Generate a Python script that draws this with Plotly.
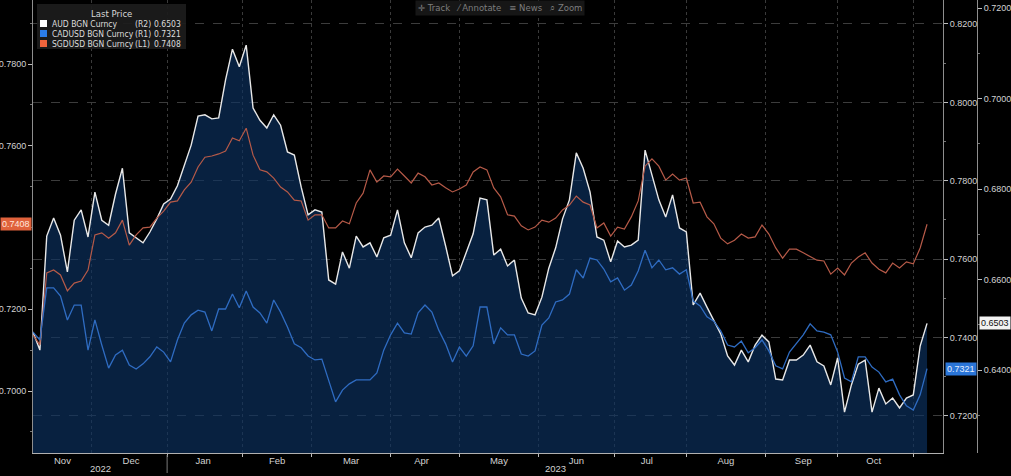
import pandas as pd
import plotly.graph_objects as go

# every second business day, one year ending on the last print
dates = pd.bdate_range("2022-11-08", "2023-11-07")[::2]

# AUD BGN Curncy (R2)
aud = [0.6484, 0.6444, 0.6696, 0.6736, 0.6698, 0.6617, 0.6731, 0.6754, 0.6694, 0.6793,
       0.6731, 0.6720, 0.6789, 0.6846, 0.6703, 0.6692, 0.6681, 0.6705, 0.6734, 0.6767,
       0.6778, 0.6807, 0.6853, 0.6897, 0.6961, 0.6964, 0.6955, 0.6957, 0.7041, 0.7109,
       0.7070, 0.7118, 0.6979, 0.6952, 0.6935, 0.6964, 0.6941, 0.6882, 0.6875, 0.6804,
       0.6743, 0.6754, 0.6749, 0.6599, 0.6590, 0.6661, 0.6625, 0.6696, 0.6672, 0.6681,
       0.6650, 0.6692, 0.6698, 0.6754, 0.6681, 0.6648, 0.6703, 0.6716, 0.6720, 0.6736,
       0.6674, 0.6608, 0.6619, 0.6661, 0.6701, 0.6780, 0.6776, 0.6654, 0.6667, 0.6630,
       0.6643, 0.6559, 0.6526, 0.6522, 0.6561, 0.6625, 0.6670, 0.6734, 0.6776, 0.6880,
       0.6846, 0.6793, 0.6694, 0.6687, 0.6639, 0.6685, 0.6672, 0.6676, 0.6687, 0.6886,
       0.6829, 0.6776, 0.6738, 0.6787, 0.6714, 0.6705, 0.6544, 0.6570, 0.6539, 0.6508,
       0.6480, 0.6431, 0.6411, 0.6444, 0.6418, 0.6455, 0.6477, 0.6462, 0.6380, 0.6378,
       0.6422, 0.6422, 0.6433, 0.6455, 0.6418, 0.6409, 0.6367, 0.6427, 0.6307, 0.6367,
       0.6413, 0.6422, 0.6307, 0.6360, 0.6325, 0.6338, 0.6316, 0.6338, 0.6345, 0.6453,
       0.6503]

# CADUSD BGN Curncy (R1)
cad = [0.7414, 0.7394, 0.7527, 0.7527, 0.7506, 0.7445, 0.7483, 0.7483, 0.7368, 0.7445,
       0.7381, 0.7322, 0.7356, 0.7368, 0.7330, 0.7320, 0.7333, 0.7351, 0.7376, 0.7363,
       0.7338, 0.7394, 0.7437, 0.7458, 0.7470, 0.7465, 0.7417, 0.7473, 0.7473, 0.7511,
       0.7476, 0.7519, 0.7478, 0.7463, 0.7437, 0.7496, 0.7465, 0.7427, 0.7384, 0.7374,
       0.7353, 0.7343, 0.7345, 0.7292, 0.7236, 0.7266, 0.7282, 0.7292, 0.7292, 0.7292,
       0.7310, 0.7368, 0.7407, 0.7437, 0.7412, 0.7409, 0.7463, 0.7483, 0.7465, 0.7419,
       0.7384, 0.7338, 0.7376, 0.7353, 0.7379, 0.7478, 0.7478, 0.7384, 0.7425, 0.7407,
       0.7407, 0.7358, 0.7353, 0.7366, 0.7432, 0.7450, 0.7491, 0.7496, 0.7511, 0.7573,
       0.7552, 0.7603, 0.7598, 0.7575, 0.7542, 0.7552, 0.7521, 0.7534, 0.7570, 0.7623,
       0.7578, 0.7598, 0.7573, 0.7578, 0.7562, 0.7573, 0.7493, 0.7481, 0.7453, 0.7442,
       0.7417, 0.7381, 0.7376, 0.7391, 0.7361, 0.7374, 0.7394, 0.7366, 0.7328, 0.7320,
       0.7363, 0.7384, 0.7407, 0.7435, 0.7417, 0.7414, 0.7407, 0.7363, 0.7297, 0.7287,
       0.7351, 0.7351, 0.7325, 0.7312, 0.7287, 0.7294, 0.7254, 0.7226, 0.7215, 0.7254,
       0.7321]

# SGDUSD BGN Curncy (L1)
sgd = [0.7137, 0.7113, 0.7289, 0.7296, 0.7284, 0.7245, 0.7264, 0.7269, 0.7296, 0.7382,
       0.7387, 0.7374, 0.7387, 0.7418, 0.7357, 0.7382, 0.7399, 0.7401, 0.7423, 0.7440,
       0.7462, 0.7465, 0.7492, 0.7511, 0.7548, 0.7572, 0.7575, 0.7580, 0.7587, 0.7619,
       0.7612, 0.7643, 0.7577, 0.7541, 0.7536, 0.7521, 0.7499, 0.7487, 0.7467, 0.7465,
       0.7418, 0.7431, 0.7431, 0.7399, 0.7399, 0.7416, 0.7409, 0.7460, 0.7484, 0.7541,
       0.7511, 0.7526, 0.7524, 0.7543, 0.7526, 0.7509, 0.7533, 0.7524, 0.7504, 0.7509,
       0.7497, 0.7487, 0.7494, 0.7504, 0.7536, 0.7548, 0.7541, 0.7497, 0.7475, 0.7431,
       0.7428, 0.7404, 0.7394, 0.7401, 0.7418, 0.7413, 0.7423, 0.7443, 0.7455, 0.7477,
       0.7462, 0.7455, 0.7399, 0.7411, 0.7379, 0.7401, 0.7396, 0.7426, 0.7465, 0.7550,
       0.7568, 0.7550, 0.7516, 0.7531, 0.7516, 0.7521, 0.7460, 0.7462, 0.7426, 0.7409,
       0.7374, 0.7360, 0.7369, 0.7384, 0.7374, 0.7377, 0.7406, 0.7384, 0.7350, 0.7325,
       0.7347, 0.7347, 0.7338, 0.7328, 0.7320, 0.7318, 0.7286, 0.7301, 0.7284, 0.7313,
       0.7328, 0.7338, 0.7313, 0.7298, 0.7289, 0.7313, 0.7301, 0.7316, 0.7311, 0.7350,
       0.7408]

series_names = ["AUD BGN Curncy", "CADUSD BGN Curncy", "SGDUSD BGN Curncy"]
series_axes = ["(R2)", "(R1)", "(L1)"]
year_labels = ["2022", "2023"]
year_label_dates = ["2022-12-05 12:00", "2023-06-08"]
first_month_label = ("Nov", "2022-11-18 12:00")   # partial month at the left edge

FONT = "Liberation Sans Narrow, DejaVu Sans Condensed, Liberation Sans, Arial, sans-serif"
AXFONT = "Liberation Sans, Arial, sans-serif"
AUD_COL, CAD_COL, SGD_COL = "#e8e8e8", "#2f6cc2", "#b65a48"


# pixel helpers for the overlay furniture (plot area is x 33..1011, y 0..453)
def px(x):
    return (x - 33) / 978


def py(y):
    return 1 - y / 453


fig = go.Figure()

fig.add_trace(go.Scatter(x=dates, y=aud, yaxis="y", mode="lines",
                         line=dict(color=AUD_COL, width=1.4),
                         fill="tozeroy", fillcolor="rgba(13,50,98,0.65)"))
fig.add_trace(go.Scatter(x=dates, y=sgd, yaxis="y2", mode="lines",
                         line=dict(color=SGD_COL, width=1.2)))
fig.add_trace(go.Scatter(x=dates, y=cad, yaxis="y3", mode="lines",
                         line=dict(color=CAD_COL, width=1.3)))

tick_font = dict(family=AXFONT, size=9, color="#d2d2d2")
common = dict(tickformat=".4f", ticks="outside", ticklen=4,
              tickcolor="#bdbdbd", showline=True, linecolor="#8e8e8e", linewidth=1,
              tickfont=tick_font, zeroline=False, automargin=False,
              minor=dict(dtick=0.01, ticks="outside", ticklen=2, tickcolor="#777777"))

fig.update_layout(
    template="none",
    width=1011, height=476,
    margin=dict(l=33, r=0, t=0, b=23),
    paper_bgcolor="black", plot_bgcolor="black",
    showlegend=False,
    hovermode=False,
    xaxis=dict(domain=[0, 0.9305], type="date",
               range=["2022-11-08", "2023-11-13 15:36"],
               rangebreaks=[dict(bounds=["sat", "mon"])],
               dtick="M1", tickformat="%b", ticklabelmode="period",
               ticks="outside", ticklen=3, tickcolor="#bdbdbd",
               ticklabelstandoff=-4,
               showgrid=True, gridcolor="#3a3a3a", griddash="dot", gridwidth=1,
               showline=True, linecolor="#b0b0b0", linewidth=1,
               tickfont=dict(family=AXFONT, size=9.5, color="#d2d2d2"),
               zeroline=False, automargin=False),
    yaxis=dict(anchor="free", position=0.9652, side="right",
               range=[0.62166, 0.72177], tick0=0, dtick=0.02, showgrid=False, **common),
    # 0.7400 sits under the last-price badge, so it gets no label
    yaxis2=dict(overlaying="y", anchor="x", side="left",
                range=[0.68483, 0.79566], tickmode="array",
                tickvals=[0.70, 0.72, 0.76, 0.78], showgrid=False, **common),
    yaxis3=dict(overlaying="y", anchor="x", side="right",
                range=[0.71056, 0.82612], tick0=0, dtick=0.02, showgrid=True,
                gridcolor="#3c3c3c", griddash="dash", gridwidth=1, **common),
)

shapes = []
annotations = []

# legend panel
shapes.append(dict(type="rect", xref="paper", yref="paper",
                   x0=px(37), x1=px(186), y0=py(49), y1=py(4),
                   fillcolor="rgba(28,28,28,0.92)", line=dict(width=0), layer="above"))
annotations.append(dict(xref="paper", yref="paper", x=px(111), y=py(13),
                        xanchor="center", yanchor="middle",
                        text="Last Price", showarrow=False,
                        font=dict(family=FONT, size=9.5, color="#d8d8d8")))
swatches = ["#ffffff", "#2b7de9", "#f0643c"]
last_vals = [aud[-1], cad[-1], sgd[-1]]
for i, (name, tag, col, val) in enumerate(zip(series_names, series_axes, swatches, last_vals)):
    cy = 23.5 + 10 * i
    shapes.append(dict(type="rect", xref="paper", yref="paper",
                       x0=px(40), x1=px(47), y0=py(cy + 3.5), y1=py(cy - 3.5),
                       fillcolor=col, line=dict(width=0), layer="above"))
    row_font = dict(family=FONT, size=8.5, color="#dcdcdc")
    annotations.append(dict(xref="paper", yref="paper", x=px(50), y=py(cy),
                            xanchor="left", yanchor="middle", showarrow=False,
                            text=name, font=row_font))
    annotations.append(dict(xref="paper", yref="paper", x=px(133), y=py(cy),
                            xanchor="left", yanchor="middle", showarrow=False,
                            text=tag, font=row_font))
    annotations.append(dict(xref="paper", yref="paper", x=px(183), y=py(cy),
                            xanchor="right", yanchor="middle", showarrow=False,
                            text=f"{val:.4f}", font=row_font))

# toolbar
annotations.append(dict(xref="paper", yref="paper", x=px(500), y=py(8),
                        xanchor="center", yanchor="middle",
                        showarrow=False, bgcolor="#161616", borderpad=2,
                        text="\u271b Track \u00a0\u00a0\u2044 Annotate \u00a0\u00a0\u2261 News \u00a0\u00a0\u2315 Zoom",
                        font=dict(family="DejaVu Sans, sans-serif", size=8.5, color="#7d7d7d")))

# last-value badges on each axis
annotations.append(dict(xref="paper", x=0, xanchor="right", xshift=-1,
                        yref="y2", y=sgd[-1], yanchor="middle",
                        text=f"{sgd[-1]:.4f}", showarrow=False,
                        bgcolor="#e0623c", borderpad=1,
                        font=dict(family=AXFONT, size=9, color="#ffe6dc")))
annotations.append(dict(xref="paper", x=0.9305, xanchor="left", xshift=2,
                        yref="y3", y=cad[-1], yanchor="middle",
                        text=f"{cad[-1]:.4f}", showarrow=False,
                        bgcolor="#2a75d8", borderpad=1,
                        font=dict(family=AXFONT, size=9, color="#e4eeff")))
annotations.append(dict(xref="paper", x=0.9652, xanchor="left", xshift=2,
                        yref="y", y=aud[-1], yanchor="middle",
                        text=f"{aud[-1]:.4f}", showarrow=False,
                        bgcolor="#f2f2f2", borderpad=1,
                        font=dict(family=AXFONT, size=9, color="#111111")))

# month label of the partial first month, and the year row
annotations.append(dict(xref="x", x=first_month_label[1], yref="paper", y=py(460),
                        xanchor="center", yanchor="middle",
                        text=first_month_label[0], showarrow=False,
                        font=dict(family=AXFONT, size=9.5, color="#d2d2d2")))
for lab, d in zip(year_labels, year_label_dates):
    annotations.append(dict(xref="x", x=d, yref="paper", y=py(468),
                            xanchor="center", yanchor="middle",
                            text=lab, showarrow=False,
                            font=dict(family=AXFONT, size=9.5, color="#d2d2d2")))
shapes.append(dict(type="line", xref="x", x0="2023-01-02", x1="2023-01-02",
                   yref="paper", y0=py(455), y1=py(473),
                   line=dict(color="#7a7a7a", width=1)))

fig.update_layout(shapes=shapes, annotations=annotations)

# the page's default 8px body margin would push the figure off its spot
fig.write_html("out.html", config={"displayModeBar": False},
               post_script="document.body.style.margin='0';")
